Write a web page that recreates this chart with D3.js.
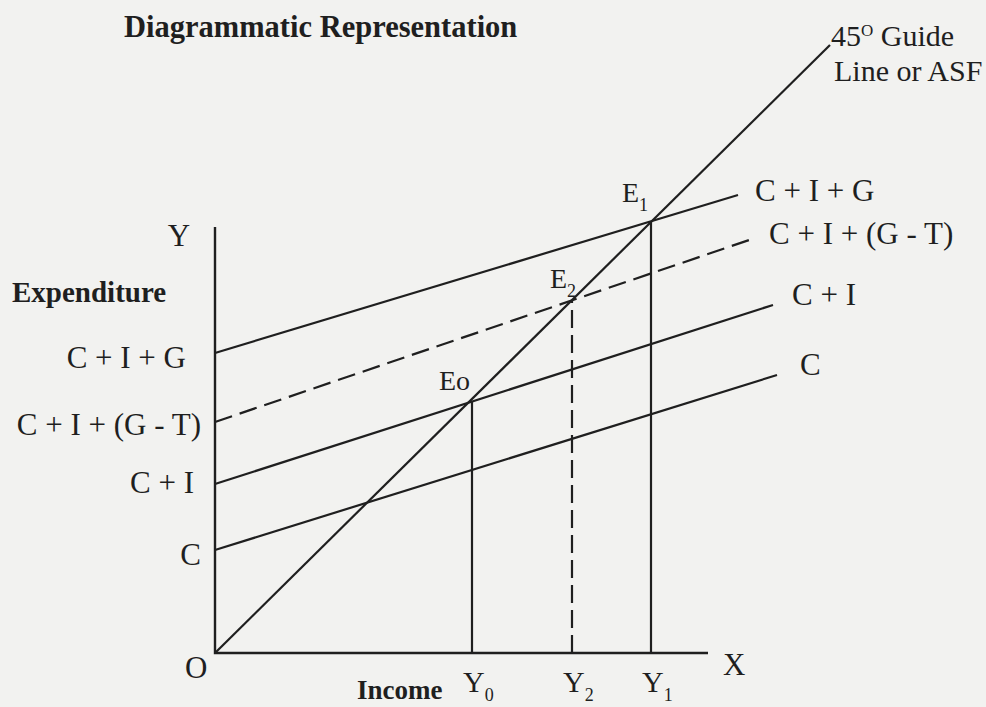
<!DOCTYPE html>
<html>
<head>
<meta charset="utf-8">
<script src="https://cdn.jsdelivr.net/npm/d3@7"></script>
<style>
  body { margin: 0; background: #f2f2f0; }
  svg { display: block; }
  text { font-family: "Liberation Serif", "Times New Roman", serif; fill: #1f1f1f; }
</style>
</head>
<body>
<svg id="graph"></svg>
<script>
// expenditure schedules (data units, income and expenditure on same scale)
const scheduleNames = ["C + I + G", "C + I + (G - T)", "C + I", "C"];
const scheduleIntercepts = [60, 46.2, 33.8, 20.6];
const scheduleEndIncome = [104.6, 108, 111.6, 112.4];
const scheduleEndExpend = [91.6, 83, 69.6, 55.6];
const scheduleDashed = [false, true, false, false];

// 45 degree guide line
const guideIncome = [0, 123];
const guideExpend = [0, 121.6];

// equilibrium points
const eqNames = ["Eo", "E", "E"];
const eqSubs = ["", "2", "1"];
const eqIncome = [51.4, 71.4, 87.2];
const eqExpend = [50.4, 70.6, 86.2];
const eqDashed = [false, true, false];
const incomeSubs = ["0", "2", "1"];

const axisIncomeMax = 98.6;
const axisExpendMax = 85.2;

const width = 986, height = 707;
const ink = "#1f1f1f";

const svg = d3.select("#graph")
  .attr("width", width)
  .attr("height", height);

const x = d3.scaleLinear().domain([0, 100]).range([215, 715]);
const y = d3.scaleLinear().domain([0, 100]).range([653, 153]);

const line = d3.line().x(d => x(d[0])).y(d => y(d[1]));

// title
svg.append("text")
  .attr("x", 124).attr("y", 37)
  .style("font-size", "30.5px").style("font-weight", "bold")
  .text("Diagrammatic Representation");

// axes
svg.append("path")
  .attr("d", line([[0, axisExpendMax], [0, 0], [axisIncomeMax, 0]]))
  .attr("fill", "none").attr("stroke", ink).attr("stroke-width", 2.4);

// guide line
svg.append("path")
  .attr("d", line(guideIncome.map((v, i) => [v, guideExpend[i]])))
  .attr("fill", "none").attr("stroke", ink).attr("stroke-width", 2.2);

// schedules
const schedules = scheduleNames.map((name, i) => ({
  name,
  pts: [[0, scheduleIntercepts[i]], [scheduleEndIncome[i], scheduleEndExpend[i]]],
  dashed: scheduleDashed[i]
}));

svg.selectAll(".schedule")
  .data(schedules)
  .enter()
  .append("path")
  .attr("class", "schedule")
  .attr("d", d => line(d.pts))
  .attr("fill", "none")
  .attr("stroke", ink)
  .attr("stroke-width", 2.2)
  .attr("stroke-dasharray", d => d.dashed ? "18,8" : null);

// vertical drops from equilibria
svg.selectAll(".drop")
  .data(eqIncome)
  .enter()
  .append("path")
  .attr("class", "drop")
  .attr("d", (d, i) => line([[d, 0], [d, eqExpend[i]]]))
  .attr("fill", "none")
  .attr("stroke", ink)
  .attr("stroke-width", 2.2)
  .attr("stroke-dasharray", (d, i) => eqDashed[i] ? "18,7" : null);

// left labels (at intercepts)
const leftEnd = [186, 201, 194, 201];
const leftDy = [15, 13, 9, 15];
svg.selectAll(".left-label")
  .data(schedules)
  .enter()
  .append("text")
  .attr("class", "left-label")
  .attr("x", (d, i) => leftEnd[i])
  .attr("y", (d, i) => y(scheduleIntercepts[i]) + leftDy[i])
  .attr("text-anchor", "end")
  .style("font-size", "31px")
  .text(d => d.name);

// right labels (at line ends)
const rightDx = [17, 14, 19, 23];
const rightDy = [6, 6, 0, 0];
svg.selectAll(".right-label")
  .data(schedules)
  .enter()
  .append("text")
  .attr("class", "right-label")
  .attr("x", (d, i) => x(scheduleEndIncome[i]) + rightDx[i])
  .attr("y", (d, i) => y(scheduleEndExpend[i]) + rightDy[i])
  .style("font-size", "31px")
  .text(d => d.name);

// guide label
const guide = svg.append("text")
  .attr("x", x(guideIncome[1]) + 1).attr("y", 46)
  .style("font-size", "30px");
guide.append("tspan").text("45");
guide.append("tspan").attr("dy", -10).style("font-size", "17px").text("O");
guide.append("tspan").attr("dy", 10).text(" Guide");
svg.append("text")
  .attr("x", 834).attr("y", 81)
  .style("font-size", "30px")
  .text("Line or ASF");

// equilibrium labels
const eqDx = [-33, -22, -29];
const eqDy = [-11, -12, -20];
eqNames.forEach((name, i) => {
  const t = svg.append("text")
    .attr("x", x(eqIncome[i]) + eqDx[i])
    .attr("y", y(eqExpend[i]) + eqDy[i])
    .style("font-size", "28px");
  t.append("tspan").text(name);
  if (eqSubs[i]) t.append("tspan").attr("dy", 9).style("font-size", "18px").text(eqSubs[i]);
});

// income labels
incomeSubs.forEach((s, i) => {
  const t = svg.append("text")
    .attr("x", x(eqIncome[i]) - 9)
    .attr("y", 692)
    .style("font-size", "30px");
  t.append("tspan").text("Y");
  t.append("tspan").attr("dy", 9).style("font-size", "18px").text(s);
});

// axis letters
svg.append("text").attr("x", 179).attr("y", 246).attr("text-anchor", "middle")
  .style("font-size", "31px").text("Y");
svg.append("text").attr("x", 723).attr("y", 675)
  .style("font-size", "31px").text("X");
svg.append("text").attr("x", 185).attr("y", 678)
  .style("font-size", "31px").text("O");

svg.append("text").attr("x", 12).attr("y", 302)
  .style("font-size", "29px").style("font-weight", "bold")
  .text("Expenditure");
svg.append("text").attr("x", 357).attr("y", 699)
  .style("font-size", "27px").style("font-weight", "bold")
  .text("Income");
</script>
</body>
</html>
